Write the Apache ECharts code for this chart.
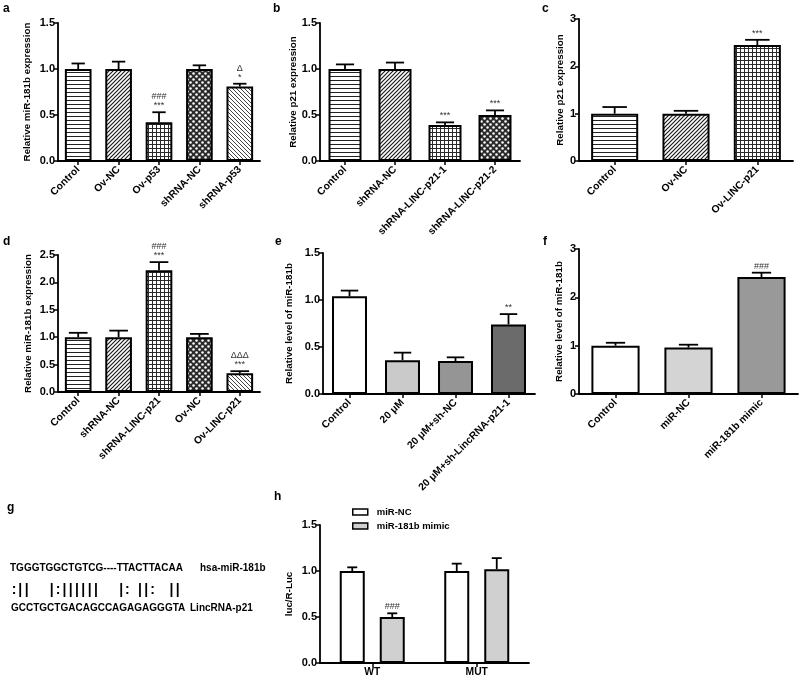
<!DOCTYPE html>
<html><head><meta charset="utf-8">
<script src="https://cdn.jsdelivr.net/npm/echarts@6/dist/echarts.min.js"></script>
<style>html,body{margin:0;padding:0;background:#fff}#c{width:800px;height:678px}</style>
</head><body><div id="c"></div>
<script>
// ---------------- DATA ----------------
const aCats = ['Control','Ov-NC','Ov-p53','shRNA-NC','shRNA-p53'];
const aVals = [1.00,1.00,0.42,1.00,0.81];
const aErrs = [0.06,0.08,0.11,0.04,0.03];
const aMarks = ['','','###\n***','','Δ\n*'];
const aAxis = [0,1.5,0.5];

const bCats = ['Control','shRNA-NC','shRNA-LINC-p21-1','shRNA-LINC-p21-2'];
const bVals = [1.00,1.00,0.39,0.50];
const bErrs = [0.05,0.07,0.03,0.05];
const bMarks = ['','','***','***'];
const bAxis = [0,1.5,0.5];

const cCats = ['Control','Ov-NC','Ov-LINC-p21'];
const cVals = [1.00,1.00,2.45];
const cErrs = [0.14,0.06,0.11];
const cMarks = ['','','***'];
const cAxis = [0,3,1];

const dCats = ['Control','shRNA-NC','shRNA-LINC-p21','Ov-NC','Ov-LINC-p21'];
const dVals = [1.00,1.00,2.22,1.00,0.34];
const dErrs = [0.08,0.12,0.15,0.06,0.04];
const dMarks = ['','','###\n***','','ΔΔΔ\n***'];
const dAxis = [0,2.5,0.5];

const eCats = ['Control','20 μM','20 μM+sh-NC','20 μM+sh-LincRNA-p21-1'];
const eVals = [1.04,0.36,0.35,0.74];
const eErrs = [0.06,0.08,0.04,0.11];
const eMarks = ['','','','**'];
const eAxis = [0,1.5,0.5];

const fCats = ['Control','miR-NC','miR-181b mimic'];
const fVals = [1.00,0.96,2.42];
const fErrs = [0.06,0.06,0.09];
const fMarks = ['','','###'];
const fAxis = [0,3,1];

const hCats = ['WT','MUT'];
const hSeries = ['miR-NC','miR-181b mimic'];
const hNCVals = [1.00,1.00];
const hNCErrs = [0.04,0.08];
const hNCMarks = ['',''];
const hMimicVals = [0.50,1.02];
const hMimicErrs = [0.04,0.12];
const hMimicMarks = ['###',''];
const hAxis = [0,1.5,0.5];

const gSeq1 = 'TGGGTGGCTGTCG----TTACTTACAA';
const gMatch = ':||   |:||||||   |: ||:  ||';
const gSeq2 = 'GCCTGCTGACAGCCAGAGAGGGTA';
const gName1 = 'hsa-miR-181b';
const gName2 = 'LincRNA-p21';

// ---------------- STYLE ----------------
const FF = '"Liberation Sans", Arial, Helvetica, sans-serif';

function makePattern(kind){
  const cv = document.createElement('canvas');
  const s = kind === 'dots' ? 6 : 4;
  cv.width = s; cv.height = s;
  const ctx = cv.getContext('2d');
  ctx.fillStyle = '#fff'; ctx.fillRect(0,0,s,s);
  if (kind === 'hlines') {
    ctx.fillStyle = '#222'; ctx.fillRect(0,0,s,1);
  } else if (kind === 'grid') {
    ctx.fillStyle = '#2a2a2a'; ctx.fillRect(0,0,s,1); ctx.fillRect(0,0,1,s);
  } else if (kind === 'fdiag' || kind === 'bdiag') {
    ctx.strokeStyle = kind === 'fdiag' ? '#1a1a1a' : '#3a3a3a';
    ctx.lineWidth = kind === 'fdiag' ? 1.2 : 0.95;
    ctx.beginPath();
    for (let k = -1; k <= 1; k++) {
      if (kind === 'fdiag') { ctx.moveTo(k*s - 1, s + 1); ctx.lineTo(k*s + s + 1, -1); }
      else { ctx.moveTo(k*s - 1, -1); ctx.lineTo(k*s + s + 1, s + 1); }
    }
    ctx.stroke();
  } else if (kind === 'dots') {
    ctx.fillStyle = '#2b2b2b'; ctx.fillRect(0,0,s,s);
    ctx.fillStyle = '#fff';
    ctx.beginPath(); ctx.arc(1.5,1.5,1.25,0,Math.PI*2); ctx.fill();
    ctx.beginPath(); ctx.arc(4.5,4.5,1.25,0,Math.PI*2); ctx.fill();
  }
  return {image: cv, repeat: 'repeat'};
}
const PAT = {};
['hlines','fdiag','grid','dots','bdiag'].forEach(k => PAT[k] = makePattern(k));
function fill(f){ return PAT[f] || f; }

const panels = [
  {cats:aCats, vals:aVals, errs:aErrs, marks:aMarks, axis:aAxis, dec:1, name:'Relative miR-181b expression',
   grid:{left:58, top:23, width:202, height:138}, gap:26, cap:0.5,
   fills:['hlines','fdiag','grid','dots','bdiag']},
  {cats:bCats, vals:bVals, errs:bErrs, marks:bMarks, axis:bAxis, dec:1, name:'Relative p21 expression',
   grid:{left:320, top:23, width:200, height:138}, gap:21, cap:0.55,
   fills:['hlines','fdiag','grid','dots']},
  {cats:cCats, vals:cVals, errs:cErrs, marks:cMarks, axis:cAxis, dec:0, name:'Relative p21 expression',
   grid:{left:579, top:19, width:214, height:142}, gap:14, cap:0.52,
   fills:['hlines','fdiag','grid']},
  {cats:dCats, vals:dVals, errs:dErrs, marks:dMarks, axis:dAxis, dec:1, name:'Relative miR-181b expression',
   grid:{left:58, top:255, width:202, height:137}, gap:25, cap:0.7,
   fills:['hlines','fdiag','grid','dots','bdiag']},
  {cats:eCats, vals:eVals, errs:eErrs, marks:eMarks, axis:eAxis, dec:1, name:'Relative level of miR-181b',
   grid:{left:323, top:253, width:212, height:141}, gap:29, cap:0.5,
   fills:['#ffffff','#cacaca','#959595','#6b6b6b']},
  {cats:fCats, vals:fVals, errs:fErrs, marks:fMarks, axis:fAxis, dec:0, name:'Relative level of miR-181b',
   grid:{left:579, top:249, width:219, height:145}, gap:15, cap:0.4,
   fills:['#ffffff','#d4d4d4','#999999']}
];

const grids = [], xAxes = [], yAxes = [], series = [];

function addAxes(p, gi, rotate){
  grids.push(Object.assign({containLabel:false}, p.grid));
  xAxes.push({
    type:'category', gridIndex:gi, data:p.cats,
    axisLine:{show:true, lineStyle:{color:'#000', width:1.8}},
    axisTick:{show:true, alignWithLabel:true, length:4, lineStyle:{color:'#000', width:1.5}},
    axisLabel:{interval:0, rotate:rotate, margin:rotate ? 7 : 4, color:'#000', fontFamily:FF, fontWeight:'bold', fontSize:10.3}
  });
  yAxes.push({
    type:'value', gridIndex:gi, min:p.axis[0], max:p.axis[1], interval:p.axis[2],
    name:p.name, nameLocation:'middle', nameRotate:90, nameGap:p.gap,
    nameTextStyle:{color:'#000', fontFamily:FF, fontWeight:'bold', fontSize:9.8},
    axisLine:{show:true, lineStyle:{color:'#000', width:1.8}},
    axisTick:{show:true, length:4, lineStyle:{color:'#000', width:1.5}},
    splitLine:{show:false},
    axisLabel:{margin:3, color:'#000', fontFamily:FF, fontWeight:'bold', fontSize:11,
      formatter: v => v.toFixed(p.dec)}
  });
}

function errSeries(gi, vals, errs, marks, capRatio, barFrac, offsetFn){
  return {
    type:'custom', xAxisIndex:gi, yAxisIndex:gi, z:5, silent:true,
    data: vals.map((v,i) => [i, v, errs[i]]),
    renderItem(params, api){
      const i = api.value(0), v = api.value(1), e = api.value(2);
      const p0 = api.coord([i, v]);
      const p1 = api.coord([i, v + e]);
      const band = api.size([1, 0])[0];
      const bw = offsetFn ? offsetFn.bw : band * barFrac;
      const x = p0[0] + (offsetFn ? offsetFn.off : 0);
      const half = bw * capRatio / 2;
      const st = {stroke:'#000', lineWidth:1.8};
      const ch = [
        {type:'line', shape:{x1:x, y1:p0[1], x2:x, y2:p1[1]}, style:st},
        {type:'line', shape:{x1:x - half, y1:p1[1], x2:x + half, y2:p1[1]}, style:st}
      ];
      const m = marks[params.dataIndex];
      if (m) {
        const lines = m.split('\n').reverse();
        lines.forEach((ln, j) => ch.push({type:'text', style:{text:ln, x:x, y:p1[1] - 2 - j*9,
          align:'center', verticalAlign:'bottom', fontFamily:FF, fontSize:9, fill:'#333'}}));
      }
      return {type:'group', children:ch};
    }
  };
}

panels.forEach((p, gi) => {
  addAxes(p, gi, 45);
  series.push({
    type:'bar', name:'p'+gi, xAxisIndex:gi, yAxisIndex:gi, barCategoryGap:'34%',
    data: p.vals.map((v,i) => ({value:v, itemStyle:{color:fill(p.fills[i]), borderColor:'#000', borderWidth:2}})),
    silent:true
  });
  series.push(errSeries(gi, p.vals, p.errs, p.marks, p.cap, 0.66));
});

// panel h
const hGi = panels.length;
addAxes({cats:hCats, axis:hAxis, dec:1, name:'luc/R-Luc', grid:{left:320, top:525, width:209, height:138}, gap:26}, hGi, 0);
const hBarW = 25, hGapPx = 15;
series.push({type:'bar', name:hSeries[0], xAxisIndex:hGi, yAxisIndex:hGi, barWidth:hBarW, barGap:'60%',
  data:hNCVals, itemStyle:{color:'#ffffff', borderColor:'#000', borderWidth:2}, silent:true});
series.push({type:'bar', name:hSeries[1], xAxisIndex:hGi, yAxisIndex:hGi, barWidth:hBarW, barGap:'60%',
  data:hMimicVals, itemStyle:{color:'#d0d0d0', borderColor:'#000', borderWidth:2}, silent:true});
series.push(errSeries(hGi, hNCVals, hNCErrs, hNCMarks, 0.4, 0, {bw:hBarW, off:-(hBarW + hGapPx)/2}));
series.push(errSeries(hGi, hMimicVals, hMimicErrs, hMimicMarks, 0.4, 0, {bw:hBarW, off:(hBarW + hGapPx)/2}));

// panel letters and panel g text
const graphics = [];
const letters = [['a',3,3],['b',273,3],['c',542,3],['d',3,236],['e',275,236],['f',543,236],['g',7,502],['h',274,491]];
letters.forEach(([t,x,y]) => graphics.push({type:'text', left:x, top:y,
  style:{text:t, fontFamily:FF, fontWeight:'bold', fontSize:12, fill:'#000'}}));
const gTxt = (t, x, y, size) => ({type:'text', x:x, y:y,
  style:{text:t, fontFamily:FF, fontWeight:'bold', fontSize:size, fill:'#000', verticalAlign:'middle'}});
graphics.push(gTxt(gSeq1, 10, 568, 10));
graphics.push(gTxt(gName1, 200, 568, 10));
graphics.push(gTxt(gSeq2, 11, 608, 10));
graphics.push(gTxt(gName2, 190, 608, 10));
const gPitch = 6.3, gX0 = 14;
gMatch.split('').forEach((ch, k) => {
  if (ch === ' ') return;
  graphics.push({type:'text', x:gX0 + k*gPitch, y:590,
    style:{text:ch, fontFamily:FF, fontWeight:'bold', fontSize:14, fill:'#000', align:'center', verticalAlign:'middle'}});
});

const chart = echarts.init(document.getElementById('c'), null, {renderer:'canvas'});
chart.setOption({
  animation:false,
  backgroundColor:'#fff',
  grid:grids, xAxis:xAxes, yAxis:yAxes, series:series,
  legend:{data:hSeries, left:347, top:502, orient:'vertical', itemWidth:15, itemHeight:6, itemGap:4,
    icon:'rect', selectedMode:false,
    itemStyle:{borderColor:'#000', borderWidth:1.5},
    textStyle:{color:'#000', fontFamily:FF, fontWeight:'bold', fontSize:9.5, padding:[0,0,0,4]}},
  graphic:graphics
});
</script>
</body></html>
